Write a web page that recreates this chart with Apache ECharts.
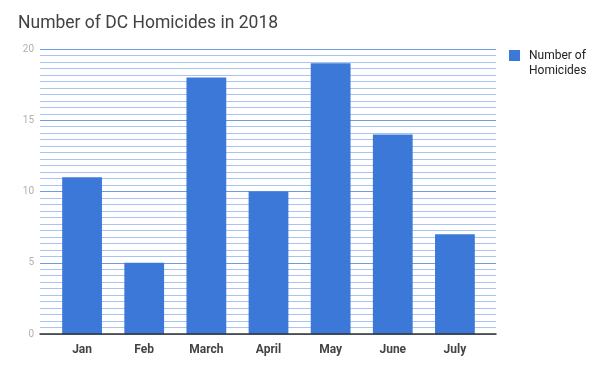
<!DOCTYPE html>
<html><head><meta charset="utf-8">
<script src="https://cdn.jsdelivr.net/npm/echarts@6/dist/echarts.min.js"></script>
<style>html,body{margin:0;padding:0;background:#fff}#c{width:600px;height:371px}</style>
</head><body><div id="c"></div>
<script>
const categories = ['Jan','Feb','March','April','May','June','July'];
const homicides = [11,5,18,10,19,14,7];
const seriesName = 'Number of Homicides';
const yTicks = {min:0, max:20, interval:5};
const chart = echarts.init(document.getElementById('c'), null, {renderer:'canvas'});
chart.setOption({
  animation:false,
  title:{text:'Number of DC Homicides in 2018',left:18,top:15,padding:0,
    textStyle:{fontFamily:'Roboto',fontWeight:'normal',fontSize:17.5,color:'#424242'}},
  legend:{left:509,top:48,padding:0,orient:'vertical',itemWidth:11,itemHeight:26,
    icon:'path://M0,0H11V11H0Z M0,26L11,26',
    data:[{name:seriesName}],
    formatter:()=> 'Number of\nHomicides',
    textStyle:{fontFamily:'Roboto',fontSize:12,color:'#222',lineHeight:15,padding:[0,0,0,4]}},
  grid:[{left:40,right:104,top:49,bottom:37},{left:51,right:114,top:49,bottom:37}],
  xAxis:[
    {type:'value',gridIndex:0,min:0,max:1,z:5,
     axisLine:{show:true,onZero:false,lineStyle:{color:'#333',width:1.5}},
     axisTick:{show:false},axisLabel:{show:false},splitLine:{show:false}},
    {type:'category',gridIndex:1,data:categories,
     axisLine:{show:false},axisTick:{show:false},
     axisLabel:{fontFamily:'Roboto',fontWeight:'bold',fontSize:12,color:'#444',margin:10}}
  ],
  yAxis:[
    {type:'value',gridIndex:0,min:yTicks.min,max:yTicks.max,interval:yTicks.interval,
     axisLine:{show:false},axisTick:{show:false},
     axisLabel:{fontFamily:'Roboto',fontSize:10,color:'#b0b0b0',margin:6},
     splitLine:{lineStyle:{color:'#6f9be2',width:1}},
     minorTick:{show:false,splitNumber:11},
     minorSplitLine:{show:true,lineStyle:{color:'#a8c4f2',width:1}}},
    {type:'value',gridIndex:1,min:yTicks.min,max:yTicks.max,show:false,splitLine:{show:false}}
  ],
  series:[{name:seriesName,type:'bar',xAxisIndex:1,yAxisIndex:1,data:homicides,barWidth:'64%',
    itemStyle:{color:'#3c78d8'}}]
});
</script></body></html>
